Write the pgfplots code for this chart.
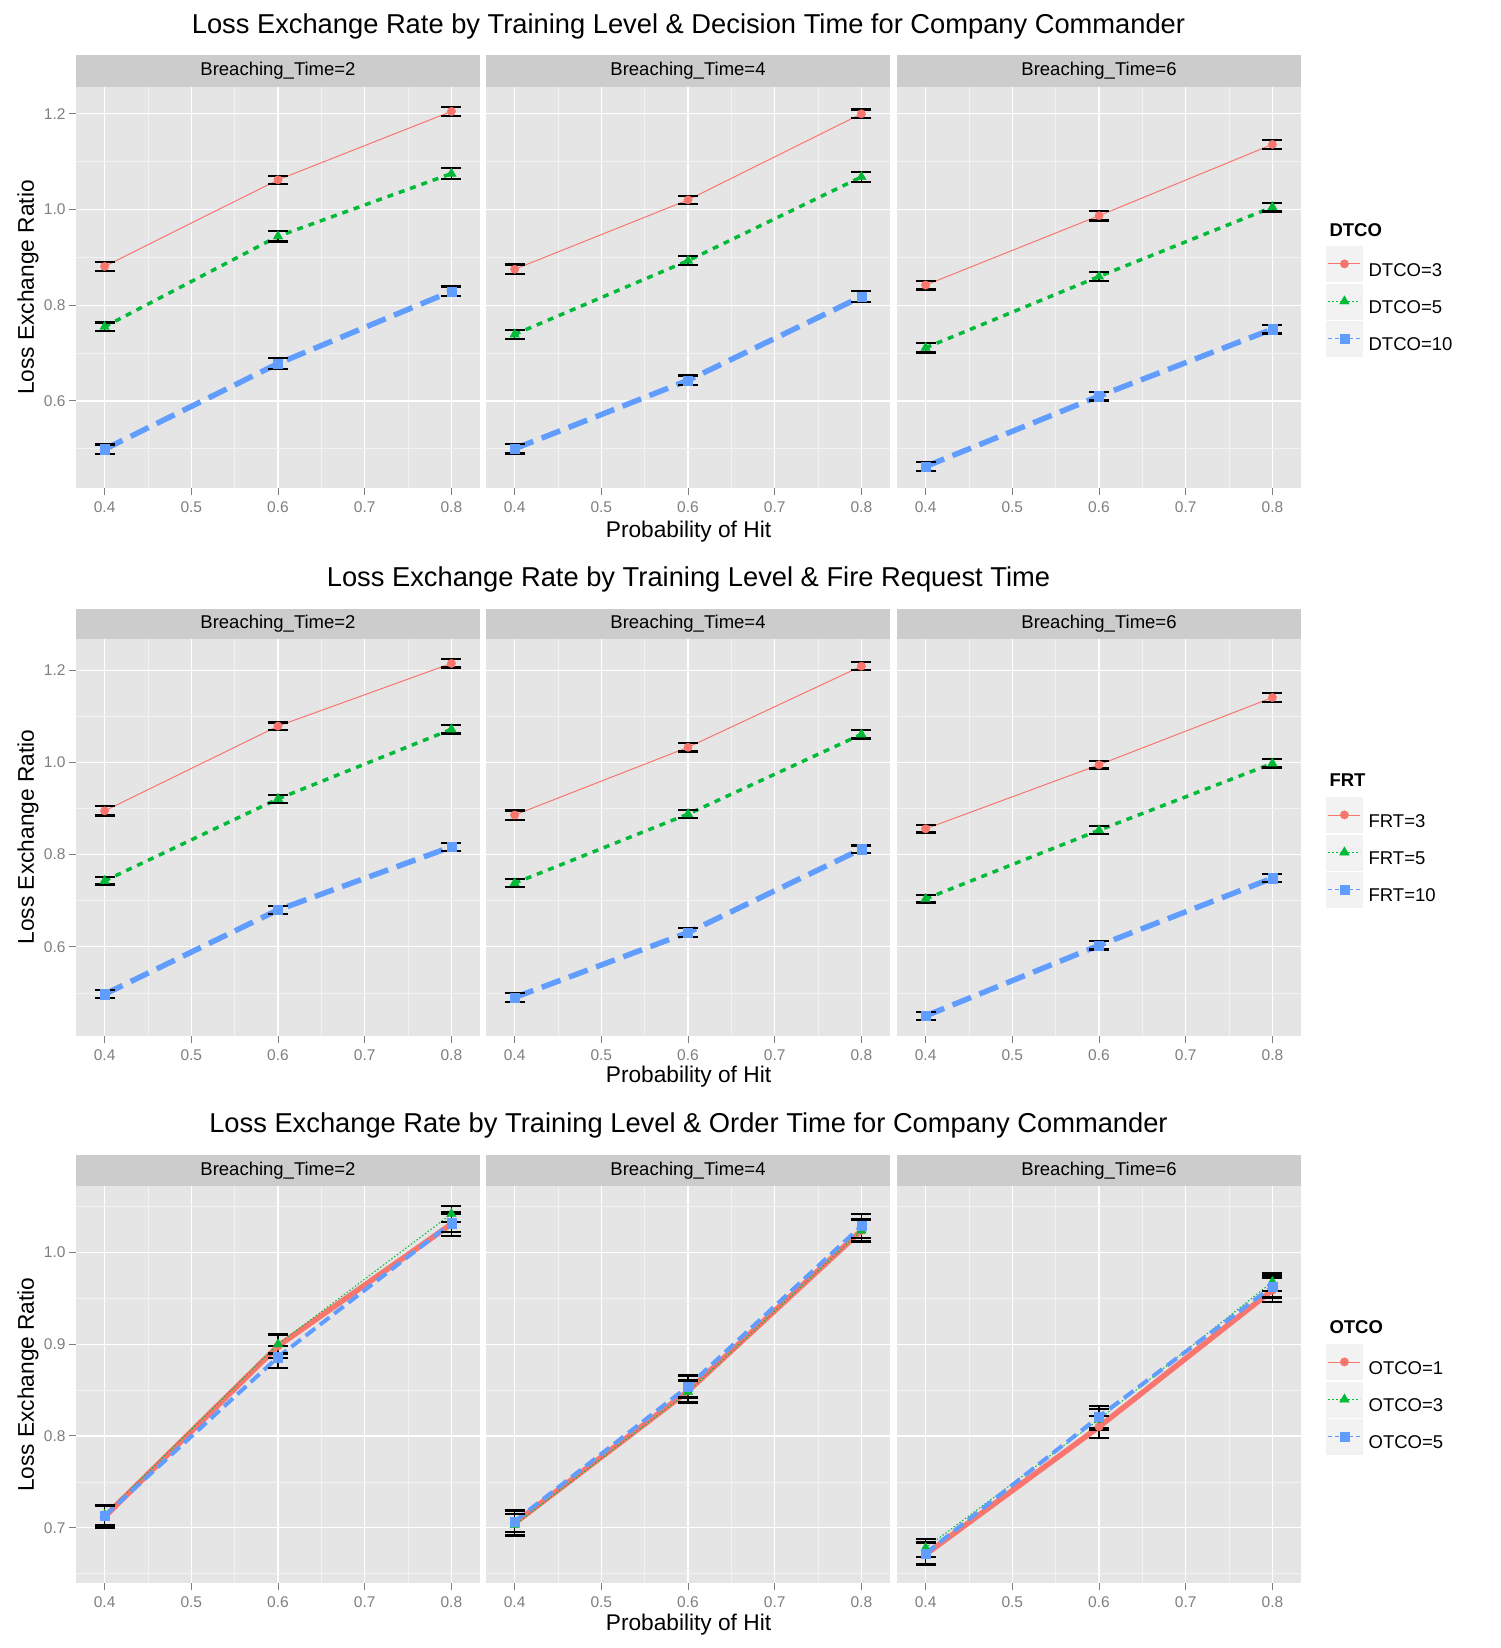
\documentclass[border=0pt]{standalone}
\usepackage{pgfplots}
\pgfplotsset{compat=1.18}
\usepackage{pgfplotstable}
\usepackage{fontspec}
\setmainfont{Liberation Sans}
\definecolor{c1}{HTML}{F8766D}
\definecolor{c2}{HTML}{00BA38}
\definecolor{c3}{HTML}{619CFF}
\definecolor{panelbg}{HTML}{E5E5E5}
\definecolor{stripbg}{HTML}{CCCCCC}
\definecolor{gridminor}{HTML}{F2F2F2}
\definecolor{keybg}{HTML}{F2F2F2}
\definecolor{ticklab}{HTML}{7F7F7F}
\newcommand\titlefont{\fontsize{27.3}{30}\selectfont}
\newcommand\labfont{\fontsize{22.7}{26}\selectfont}
\newcommand\stripfont{\fontsize{18.5}{22}\selectfont}
\newcommand\legfont{\fontsize{18.5}{22}\selectfont}
\newcommand\tickfont{\fontsize{15.5}{18}\selectfont}

% Row 1: DTCO
\pgfplotstableread{
x a ea b eb c ec
0.4 0.881 0.010 0.755 0.009 0.499 0.010
0.6 1.062 0.008 0.944 0.011 0.678 0.011
0.8 1.205 0.010 1.075 0.011 0.829 0.010
}\tAa
\pgfplotstableread{
x a ea b eb c ec
0.4 0.875 0.010 0.739 0.009 0.500 0.010
0.6 1.020 0.009 0.893 0.009 0.643 0.010
0.8 1.200 0.009 1.068 0.010 0.818 0.011
}\tAb
\pgfplotstableread{
x a ea b eb c ec
0.4 0.842 0.009 0.711 0.010 0.463 0.010
0.6 0.987 0.010 0.860 0.009 0.610 0.009
0.8 1.136 0.010 1.005 0.009 0.750 0.009
}\tAc
% Row 2: FRT
\pgfplotstableread{
x a ea b eb c ec
0.4 0.895 0.010 0.743 0.008 0.497 0.009
0.6 1.079 0.008 0.921 0.009 0.680 0.009
0.8 1.215 0.009 1.072 0.009 0.817 0.009
}\tBa
\pgfplotstableread{
x a ea b eb c ec
0.4 0.886 0.010 0.738 0.009 0.490 0.009
0.6 1.033 0.009 0.888 0.009 0.631 0.009
0.8 1.209 0.009 1.061 0.009 0.812 0.008
}\tBb
\pgfplotstableread{
x a ea b eb c ec
0.4 0.856 0.008 0.704 0.008 0.450 0.009
0.6 0.995 0.008 0.853 0.009 0.603 0.009
0.8 1.141 0.009 0.998 0.009 0.749 0.009
}\tBc
% Row 3: OTCO
\pgfplotstableread{
x a ea b eb c ec
0.4 0.712 0.012 0.714 0.011 0.713 0.011
0.6 0.898 0.013 0.900 0.010 0.886 0.012
0.8 1.031 0.013 1.042 0.009 1.032 0.010
}\tCa
\pgfplotstableread{
x a ea b eb c ec
0.4 0.705 0.013 0.703 0.012 0.707 0.012
0.6 0.849 0.012 0.848 0.012 0.854 0.012
0.8 1.024 0.012 1.024 0.012 1.029 0.013
}\tCb
\pgfplotstableread{
x a ea b eb c ec
0.4 0.671 0.012 0.678 0.010 0.672 0.012
0.6 0.810 0.012 0.818 0.011 0.821 0.012
0.8 0.959 0.013 0.968 0.010 0.963 0.012
}\tCc

\pgfplotsset{
  gg/.style={
    scale only axis, width=404pt, anchor=north west,
    xmin=0.367, xmax=0.833,
    axis background/.style={fill=panelbg},
    axis line style={draw=none},
    grid=both,
    major grid style={white, line width=1.3pt},
    minor grid style={gridminor, line width=0.6pt},
    xtick={0.4,0.5,0.6,0.7,0.8},
    minor xtick={0.45,0.55,0.65,0.75},
    tick pos=left, tick align=outside,
    major tick length=7pt, minor tick length=0pt,
    tick style={ticklab, line width=1pt},
    xticklabel={\pgfmathprintnumber[assume math mode=true,fixed,fixed zerofill,precision=1]{\tick}},
    yticklabel={\pgfmathprintnumber[assume math mode=true,fixed,fixed zerofill,precision=1]{\tick}},
    ticklabel style={font=\tickfont, text=ticklab},
    xticklabel style={yshift=-3pt},
  },
  inner/.style={yticklabels={}, ytick style={draw=none}},
  rowA/.style={gg, height=401pt, ymin=0.418, ymax=1.256, ytick={0.6,0.8,1.0,1.2}, minor ytick={0.5,0.7,0.9,1.1}},
  rowB/.style={gg, height=396.7pt, ymin=0.407, ymax=1.268, ytick={0.6,0.8,1.0,1.2}, minor ytick={0.5,0.7,0.9,1.1}},
  rowC/.style={gg, height=397.3pt, ymin=0.6394, ymax=1.0725, ytick={0.7,0.8,0.9,1.0}, minor ytick={0.65,0.75,0.85,0.95,1.05}},
  leg/.style={legend style={at={(1.0619,#1)}, anchor=north west, draw=none, fill=none, inner sep=0pt, row sep=2pt, column sep=6pt, nodes={inner sep=0pt, font=\legfont}}, legend cell align=left},
  eb/.style={only marks, mark=none, forget plot, black,
    error bars/.cd, y dir=both, y explicit,
    error bar style={black, line width=1.3pt},
    error mark options={black, line width=2.2pt, mark size=10pt, rotate=90}},
  % lines rows A,B
  lA1/.style={c1, line width=1pt, forget plot, mark=none},
  lA2/.style={c2, line width=3.5pt, dash pattern=on 6pt off 6pt, forget plot, mark=none},
  lA3/.style={c3, line width=5.5pt, dash pattern=on 20pt off 9pt, forget plot, mark=none},
  % lines row C
  lC1/.style={c1, line width=5.5pt, forget plot, mark=none},
  lC2/.style={c2, line width=1pt, dash pattern=on 1.5pt off 2pt, forget plot, mark=none},
  lC3/.style={c3, line width=4pt, dash pattern=on 12pt off 6pt, forget plot, mark=none},
  % points with legend images
  p1/.style={only marks, mark=*, mark size=4.2pt, c1, mark options={solid, draw=c1, fill=c1},
    legend image code/.code={
      \fill[keybg] (0pt,-11pt) rectangle (36pt,24pt);
      \draw[c1, line width=0.8pt] (2pt,6.5pt) -- (34pt,6.5pt);
      \draw[##1] plot coordinates {(18pt,6.5pt)};}},
  p2/.style={only marks, mark=triangle*, mark size=5.5pt, c2, mark options={solid, draw=c2, fill=c2},
    legend image code/.code={
      \fill[keybg] (0pt,-11pt) rectangle (36pt,24pt);
      \draw[c2, line width=0.8pt, dash pattern=on 2pt off 2pt] (2pt,6.5pt) -- (34pt,6.5pt);
      \draw[##1] plot coordinates {(18pt,6.5pt)};}},
  p3/.style={only marks, mark=square*, mark size=4.6pt, c3, mark options={solid, draw=c3, fill=c3},
    legend image code/.code={
      \fill[keybg] (0pt,-11pt) rectangle (36pt,24pt);
      \draw[c3, line width=0.8pt, dash pattern=on 4pt off 3pt] (2pt,6.5pt) -- (34pt,6.5pt);
      \draw[##1] plot coordinates {(18pt,6.5pt)};}},
}

\begin{document}
\begin{tikzpicture}
\path[use as bounding box] (0,0) rectangle (1500pt,-1648pt);

% ---------- titles, strips, labels ----------
\node[font=\titlefont] at (688.5pt,-26pt) {Loss Exchange Rate by Training Level \& Decision Time for Company Commander};
\node[font=\titlefont] at (688.5pt,-579pt) {Loss Exchange Rate by Training Level \& Fire Request Time};
\node[font=\titlefont] at (688.5pt,-1125pt) {Loss Exchange Rate by Training Level \& Order Time for Company Commander};

\foreach \yt/\yb in {55/87, 609/639, 1155/1186}{
  \fill[stripbg] (76pt,-\yt pt) rectangle (480pt,-\yb pt);
  \fill[stripbg] (486pt,-\yt pt) rectangle (890pt,-\yb pt);
  \fill[stripbg] (897pt,-\yt pt) rectangle (1301pt,-\yb pt);
  \node[font=\stripfont] at (278pt,{-(\yt+\yb)/2*1pt}) {Breaching\_Time=2};
  \node[font=\stripfont] at (688pt,{-(\yt+\yb)/2*1pt}) {Breaching\_Time=4};
  \node[font=\stripfont] at (1099pt,{-(\yt+\yb)/2*1pt}) {Breaching\_Time=6};
}
\node[font=\labfont, rotate=90] at (28pt,-287.5pt) {Loss Exchange Ratio};
\node[font=\labfont, rotate=90] at (28pt,-837pt) {Loss Exchange Ratio};
\node[font=\labfont, rotate=90] at (28pt,-1384.6pt) {Loss Exchange Ratio};
\node[font=\labfont] at (688.5pt,-532pt) {Probability of Hit};
\node[font=\labfont] at (688.5pt,-1077pt) {Probability of Hit};
\node[font=\labfont] at (688.5pt,-1625pt) {Probability of Hit};
\node[font=\legfont\bfseries, anchor=west] at (1326pt,-230pt) {DTCO};
\node[font=\legfont\bfseries, anchor=west] at (1326pt,-780pt) {FRT};
\node[font=\legfont\bfseries, anchor=west] at (1326pt,-1327pt) {OTCO};

% ---------- Row A ----------
\begin{axis}[rowA, at={(76pt,-87pt)}]
\addplot[lA1] table[x=x,y=a]{\tAa};
\addplot[lA2] table[x=x,y=b]{\tAa};
\addplot[lA3] table[x=x,y=c]{\tAa};
\addplot[eb] table[x=x,y=a,y error=ea]{\tAa};
\addplot[eb] table[x=x,y=b,y error=eb]{\tAa};
\addplot[eb] table[x=x,y=c,y error=ec]{\tAa};
\addplot[p1] table[x=x,y=a]{\tAa};
\addplot[p2] table[x=x,y=b]{\tAa};
\addplot[p3] table[x=x,y=c]{\tAa};
\end{axis}
\begin{axis}[rowA, inner, at={(486pt,-87pt)}]
\addplot[lA1] table[x=x,y=a]{\tAb};
\addplot[lA2] table[x=x,y=b]{\tAb};
\addplot[lA3] table[x=x,y=c]{\tAb};
\addplot[eb] table[x=x,y=a,y error=ea]{\tAb};
\addplot[eb] table[x=x,y=b,y error=eb]{\tAb};
\addplot[eb] table[x=x,y=c,y error=ec]{\tAb};
\addplot[p1] table[x=x,y=a]{\tAb};
\addplot[p2] table[x=x,y=b]{\tAb};
\addplot[p3] table[x=x,y=c]{\tAb};
\end{axis}
\begin{axis}[rowA, inner, at={(897pt,-87pt)}, leg=0.6035]
\addplot[lA1] table[x=x,y=a]{\tAc};
\addplot[lA2] table[x=x,y=b]{\tAc};
\addplot[lA3] table[x=x,y=c]{\tAc};
\addplot[eb] table[x=x,y=a,y error=ea]{\tAc};
\addplot[eb] table[x=x,y=b,y error=eb]{\tAc};
\addplot[eb] table[x=x,y=c,y error=ec]{\tAc};
\addplot[p1] table[x=x,y=a]{\tAc}; \addlegendentry{DTCO=3}
\addplot[p2] table[x=x,y=b]{\tAc}; \addlegendentry{DTCO=5}
\addplot[p3] table[x=x,y=c]{\tAc}; \addlegendentry{DTCO=10}
\end{axis}

% ---------- Row B ----------
\begin{axis}[rowB, at={(76pt,-639pt)}]
\addplot[lA1] table[x=x,y=a]{\tBa};
\addplot[lA2] table[x=x,y=b]{\tBa};
\addplot[lA3] table[x=x,y=c]{\tBa};
\addplot[eb] table[x=x,y=a,y error=ea]{\tBa};
\addplot[eb] table[x=x,y=b,y error=eb]{\tBa};
\addplot[eb] table[x=x,y=c,y error=ec]{\tBa};
\addplot[p1] table[x=x,y=a]{\tBa};
\addplot[p2] table[x=x,y=b]{\tBa};
\addplot[p3] table[x=x,y=c]{\tBa};
\end{axis}
\begin{axis}[rowB, inner, at={(486pt,-639pt)}]
\addplot[lA1] table[x=x,y=a]{\tBb};
\addplot[lA2] table[x=x,y=b]{\tBb};
\addplot[lA3] table[x=x,y=c]{\tBb};
\addplot[eb] table[x=x,y=a,y error=ea]{\tBb};
\addplot[eb] table[x=x,y=b,y error=eb]{\tBb};
\addplot[eb] table[x=x,y=c,y error=ec]{\tBb};
\addplot[p1] table[x=x,y=a]{\tBb};
\addplot[p2] table[x=x,y=b]{\tBb};
\addplot[p3] table[x=x,y=c]{\tBb};
\end{axis}
\begin{axis}[rowB, inner, at={(897pt,-639pt)}, leg=0.6017]
\addplot[lA1] table[x=x,y=a]{\tBc};
\addplot[lA2] table[x=x,y=b]{\tBc};
\addplot[lA3] table[x=x,y=c]{\tBc};
\addplot[eb] table[x=x,y=a,y error=ea]{\tBc};
\addplot[eb] table[x=x,y=b,y error=eb]{\tBc};
\addplot[eb] table[x=x,y=c,y error=ec]{\tBc};
\addplot[p1] table[x=x,y=a]{\tBc}; \addlegendentry{FRT=3}
\addplot[p2] table[x=x,y=b]{\tBc}; \addlegendentry{FRT=5}
\addplot[p3] table[x=x,y=c]{\tBc}; \addlegendentry{FRT=10}
\end{axis}

% ---------- Row C ----------
\begin{axis}[rowC, at={(76pt,-1186pt)}]
\addplot[lC1] table[x=x,y=a]{\tCa};
\addplot[lC2] table[x=x,y=b]{\tCa};
\addplot[lC3] table[x=x,y=c]{\tCa};
\addplot[eb] table[x=x,y=a,y error=ea]{\tCa};
\addplot[eb] table[x=x,y=b,y error=eb]{\tCa};
\addplot[eb] table[x=x,y=c,y error=ec]{\tCa};
\addplot[p1] table[x=x,y=a]{\tCa};
\addplot[p2] table[x=x,y=b]{\tCa};
\addplot[p3] table[x=x,y=c]{\tCa};
\end{axis}
\begin{axis}[rowC, inner, at={(486pt,-1186pt)}]
\addplot[lC1] table[x=x,y=a]{\tCb};
\addplot[lC2] table[x=x,y=b]{\tCb};
\addplot[lC3] table[x=x,y=c]{\tCb};
\addplot[eb] table[x=x,y=a,y error=ea]{\tCb};
\addplot[eb] table[x=x,y=b,y error=eb]{\tCb};
\addplot[eb] table[x=x,y=c,y error=ec]{\tCb};
\addplot[p1] table[x=x,y=a]{\tCb};
\addplot[p2] table[x=x,y=b]{\tCb};
\addplot[p3] table[x=x,y=c]{\tCb};
\end{axis}
\begin{axis}[rowC, inner, at={(897pt,-1186pt)}, leg=0.6023]
\addplot[lC1] table[x=x,y=a]{\tCc};
\addplot[lC2] table[x=x,y=b]{\tCc};
\addplot[lC3] table[x=x,y=c]{\tCc};
\addplot[eb] table[x=x,y=a,y error=ea]{\tCc};
\addplot[eb] table[x=x,y=b,y error=eb]{\tCc};
\addplot[eb] table[x=x,y=c,y error=ec]{\tCc};
\addplot[p1] table[x=x,y=a]{\tCc}; \addlegendentry{OTCO=1}
\addplot[p2] table[x=x,y=b]{\tCc}; \addlegendentry{OTCO=3}
\addplot[p3] table[x=x,y=c]{\tCc}; \addlegendentry{OTCO=5}
\end{axis}
\end{tikzpicture}
\end{document}
